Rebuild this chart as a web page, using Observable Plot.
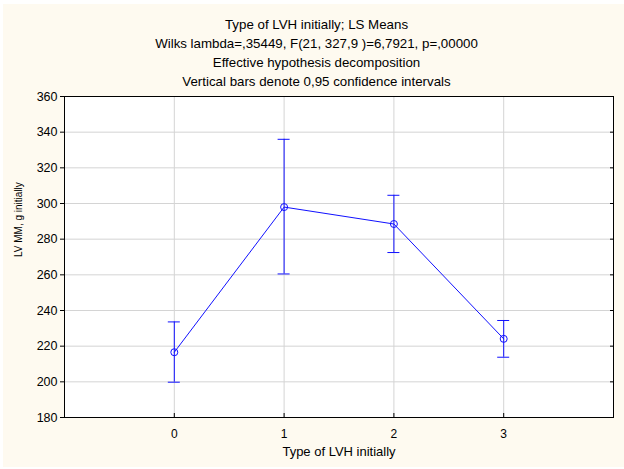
<!DOCTYPE html>
<html>
<head>
<meta charset="utf-8">
<script src="https://cdn.jsdelivr.net/npm/d3@7"></script>
<script src="https://cdn.jsdelivr.net/npm/@observablehq/plot@0.6"></script>
<style>
  html, body { margin: 0; padding: 0; background: #ffffff; overflow: hidden; }
  #chart { position: absolute; left: 3px; top: 4px; }
  #chart svg { background: #fefaf0; display: block; }
</style>
</head>
<body>
<div id="chart"></div>
<script>
const titleLines = [
  "Type of LVH initially; LS Means",
  "Wilks lambda=,35449, F(21, 327,9 )=6,7921, p=,00000",
  "Effective hypothesis decomposition",
  "Vertical bars denote 0,95 confidence intervals"
];
const xLabel = "Type of LVH initially";
const yLabel = "LV MM, g initially";

const types = [0, 1, 2, 3];
const means = [216.6, 298.0, 288.5, 224.1];
const lower = [199.8, 260.5, 272.5, 213.8];
const upper = [233.6, 336.0, 304.6, 234.4];

const xTicks = [0, 1, 2, 3];
const yTicks = [180, 200, 220, 240, 260, 280, 300, 320, 340, 360];
const yGrid = [200, 220, 240, 260, 280, 300, 320, 340];

const data = types.map((t, i) => ({type: t, mean: means[i], lo: lower[i], hi: upper[i]}));

const blue = "#1010ff";
const font = "'Liberation Sans', Arial, sans-serif";

const chart = Plot.plot({
  width: 621,
  height: 463,
  marginLeft: 61,
  marginRight: 11,
  marginTop: 92,
  marginBottom: 50,
  style: {fontFamily: font, fontSize: "12px", color: "#000", background: "#fefaf0"},
  x: {domain: [-1, 4], axis: null},
  y: {domain: [180, 360], axis: null},
  marks: [
    Plot.frame({fill: "#ffffff", stroke: null}),
    Plot.gridX(xTicks, {stroke: "#d4d4d4", strokeOpacity: 1}),
    Plot.gridY(yGrid, {stroke: "#d4d4d4", strokeOpacity: 1}),
    Plot.frame({stroke: "#000000", strokeWidth: 1}),
    Plot.axisY(yTicks, {anchor: "left", label: null, tickSize: 4, tickPadding: 3, fontSize: 12.5, stroke: "#000"}),
    Plot.axisY(yTicks, {anchor: "right", label: null, tickSize: 4, dx: -4, text: null, stroke: "#000"}),
    Plot.axisX(xTicks, {anchor: "bottom", label: null, tickSize: 4, dy: -4, text: null, stroke: "#000"}),
    Plot.axisX(xTicks, {anchor: "bottom", label: null, tickSize: 0, tickPadding: 12, fontSize: 12}),
    Plot.ruleX(data, {x: "type", y1: "lo", y2: "hi", stroke: blue, strokeWidth: 1}),
    Plot.ruleY(data, {x1: "type", x2: "type", y: "lo", insetLeft: -6, insetRight: -6, stroke: blue, strokeWidth: 1}),
    Plot.ruleY(data, {x1: "type", x2: "type", y: "hi", insetLeft: -6, insetRight: -6, stroke: blue, strokeWidth: 1}),
    Plot.line(data, {x: "type", y: "mean", stroke: blue, strokeWidth: 1}),
    Plot.dot(data, {x: "type", y: "mean", r: 3.5, stroke: blue, fill: "none", strokeWidth: 1}),
    Plot.text([titleLines.join("\n")], {frameAnchor: "top", dx: -22.5, dy: -45.5, lineAnchor: "middle", lineHeight: 1.43, fontSize: 13.3, fill: "#000"}),
    Plot.text([xLabel], {frameAnchor: "bottom", dy: 38, fontSize: 13, fill: "#000"}),
    Plot.text([yLabel], {frameAnchor: "left", dx: -46, rotate: -90, fontSize: 10, fill: "#000"})
  ]
});
document.getElementById("chart").appendChild(chart);
</script>
</body>
</html>
